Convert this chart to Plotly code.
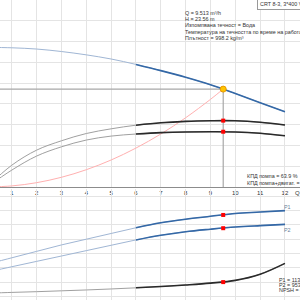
import plotly.graph_objects as go

# ---- data ----
Q = [0, 1, 2, 3, 4, 5, 6, 7, 8, 9, 10, 11, 12]
H = [33.6, 33.5, 33.2, 32.6, 31.8, 30.8, 29.5, 28.0, 26.4, 24.6, 22.5, 20.3, 18.1]
ETA_PUMP = [0, 21, 35.5, 44.5, 51.5, 56, 59.5, 61.8, 63.2, 63.8, 63.8, 62.3, 59.6]
ETA_TOTAL = [0, 16.3, 29.8, 38.7, 45.2, 49, 51, 52.3, 53, 53.2, 53.0, 51.7, 49.3]
P1 = [0.45, 0.54, 0.63, 0.72, 0.80, 0.88, 0.96, 1.03, 1.08, 1.12, 1.16, 1.18, 1.20]
P2 = [0.34, 0.415, 0.49, 0.565, 0.64, 0.715, 0.79, 0.855, 0.905, 0.94, 0.97, 0.99, 1.008]
NPSH = [0.22, 0.28, 0.33, 0.39, 0.45, 0.52, 0.60, 0.69, 0.80, 0.93, 1.12, 1.55, 2.31]

SYS_Q = [0, 1, 2, 3, 4, 5, 6, 7, 8, 9, 9.513]
SYS_H = [0, 0.26, 1.04, 2.34, 4.16, 6.5, 9.37, 12.75, 16.66, 21.09, 23.56]

DUTY_Q = 9.513
DUTY_H = 23.56
DUTY_ETA_P = 63.9
DUTY_ETA_T = 53.2
DUTY_P1 = 1.139
DUTY_P2 = 0.9538
DUTY_NPSH = 1.0

X_TICKS = [1, 2, 3, 4, 5, 6, 7, 8, 9, 10, 11, 12]

INFO_LINES = [
    "Q = 9.513 m³/h",
    "H = 23.56 m",
    "Изпомпвана течност = Вода",
    "Температура на течността по време на работа = 20 °C",
    "Плътност = 998.2 kg/m³",
]
TITLE_BOX = "CRT 8-3, 3*400 V, 50Hz"
ETA_LINES = ["КПД помпа = 63.9 %", "КПД помпа+двигат. = 53.2 %"]
POWER_LINES = ["P1 = 1139 W", "P2 = 953.8 W", "NPSH = 0.99 m"]

# ---- styles ----
BLUE = "#3468a6"
BLUE_THIN = "#a0b6d4"
GREY_THIN = "#a0a0a0"
BLACK = "#2a2a2a"
GRID = "#e4e4e4"
FONT = "Liberation Sans"
K = 6  # start of recommended (thick) range index

fig = go.Figure()

def curve(x, y, xa, ya, color_thin, color_thick):
    fig.add_trace(go.Scatter(x=x, y=y, xaxis=xa, yaxis=ya, mode="lines",
                             line=dict(color=color_thin, width=1, shape="spline"),
                             hoverinfo="skip", showlegend=False))
    fig.add_trace(go.Scatter(x=x[K:], y=y[K:], xaxis=xa, yaxis=ya, mode="lines",
                             line=dict(color=color_thick, width=1.6, shape="spline"),
                             hoverinfo="skip", showlegend=False))

# system curve
fig.add_trace(go.Scatter(x=SYS_Q, y=SYS_H, xaxis="x", yaxis="y", mode="lines",
                         line=dict(color="#ffb0b0", width=1, shape="spline"),
                         hoverinfo="skip", showlegend=False))
# duty lines
fig.add_trace(go.Scatter(x=[0, DUTY_Q, DUTY_Q], y=[DUTY_H, DUTY_H, 0], xaxis="x", yaxis="y",
                         mode="lines", line=dict(color="#a8a8a8", width=1.2),
                         hoverinfo="skip", showlegend=False))

curve(Q, H, "x", "y", BLUE_THIN, BLUE)
curve(Q, ETA_PUMP, "x", "y3", GREY_THIN, BLACK)
curve(Q, ETA_TOTAL, "x", "y3", GREY_THIN, BLACK)
curve(Q, P1, "x2", "y2", BLUE_THIN, BLUE)
curve(Q, P2, "x2", "y2", BLUE_THIN, BLUE)
curve(Q, NPSH, "x2", "y4", GREY_THIN, BLACK)

# duty markers
fig.add_trace(go.Scatter(x=[DUTY_Q], y=[DUTY_H], xaxis="x", yaxis="y", mode="markers",
                         marker=dict(color="#ffc400", size=6, line=dict(color="#e89a00", width=1)),
                         hoverinfo="skip", showlegend=False))
fig.add_trace(go.Scatter(x=[DUTY_Q, DUTY_Q], y=[DUTY_ETA_P, DUTY_ETA_T], xaxis="x", yaxis="y3",
                         mode="markers", marker=dict(color="#ff0000", size=4, symbol="square"),
                         hoverinfo="skip", showlegend=False))
fig.add_trace(go.Scatter(x=[DUTY_Q, DUTY_Q], y=[DUTY_P1, DUTY_P2], xaxis="x2", yaxis="y2",
                         mode="markers", marker=dict(color="#ff0000", size=4, symbol="square"),
                         hoverinfo="skip", showlegend=False))
fig.add_trace(go.Scatter(x=[DUTY_Q], y=[DUTY_NPSH], xaxis="x2", yaxis="y4",
                         mode="markers", marker=dict(color="#ff0000", size=4, symbol="square"),
                         hoverinfo="skip", showlegend=False))

TOP = 1 - 187 / 300
BOT = 1 - 189 / 300
p_lo = (296.4 - 300) / 71.5
p_hi = (296.4 - 189) / 71.5

fig.update_layout(
    width=300, height=300, margin=dict(l=0, r=0, t=0, b=0),
    paper_bgcolor="white", plot_bgcolor="white",
    font=dict(family=FONT, size=6, color="#333"),
    xaxis=dict(domain=[0, 1], range=[13 / 24.83, 313 / 24.83], anchor="y",
               tickvals=X_TICKS, ticktext=[str(v) for v in X_TICKS], ticks="",
               showgrid=True, gridcolor=GRID, gridwidth=1, zeroline=False,
               showline=True, linecolor="#8c8c8c", linewidth=1,
               tickfont=dict(size=6, color="#333")),
    xaxis2=dict(domain=[0, 1], matches="x", anchor="y2", showticklabels=False,
                tickvals=X_TICKS, showgrid=True, gridcolor=GRID, zeroline=False, showline=False),
    yaxis=dict(domain=[TOP, 1], range=[0, 45], dtick=5, tick0=0, showticklabels=False,
               showgrid=True, gridcolor=GRID, zeroline=False, ticks=""),
    yaxis3=dict(overlaying="y", range=[0, 180], visible=False),
    yaxis2=dict(domain=[0, BOT], range=[p_lo, p_hi], dtick=0.2, tick0=0, showticklabels=False,
                showgrid=True, gridcolor=GRID, zeroline=False, ticks=""),
    yaxis4=dict(overlaying="y2", range=[p_lo * 5, p_hi * 5], visible=False),
)

ann = []
def txt(x, y, s, size=5.4, xanchor="left", color="#333", **kw):
    ann.append(dict(x=x / 300, y=1 - y / 300, xref="paper", yref="paper", text=s,
                    showarrow=False, xanchor=xanchor, yanchor="middle",
                    font=dict(size=size, color=color, family=FONT), **kw))

for i, s in enumerate(INFO_LINES):
    txt(183, 12.7 + i * 6.3, s)
ann.append(dict(x=257 / 300, y=1 - 4 / 300, xref="paper", yref="paper", text=TITLE_BOX,
                showarrow=False, xanchor="left", yanchor="middle",
                font=dict(size=5.4, color="#333", family=FONT),
                bordercolor="#999", borderwidth=1, borderpad=2, bgcolor="white"))
for i, s in enumerate(ETA_LINES):
    txt(245, 176 + i * 6.8, s)
for i, s in enumerate(POWER_LINES):
    txt(277, 279.5 + i * 5.4, s)
txt(282, 207, "P1", color="#6a7f99")
txt(282, 229.5, "P2", color="#6a7f99")
txt(297, 193, "Q", size=6, xanchor="center")
fig.update_layout(annotations=ann)

fig.write_html("out.html")
